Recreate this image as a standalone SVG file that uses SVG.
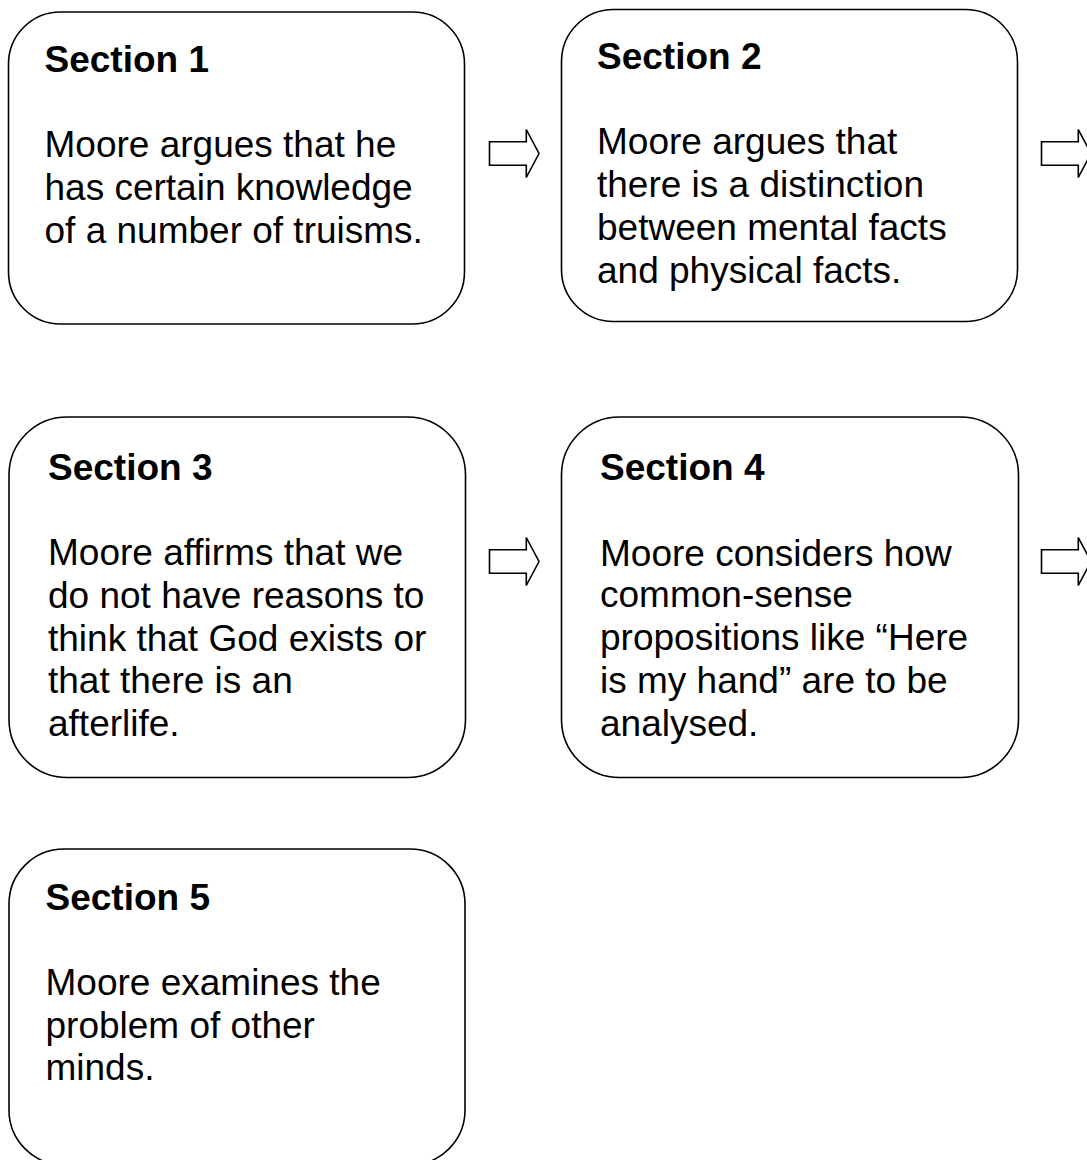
<svg xmlns="http://www.w3.org/2000/svg" xmlns:xlink="http://www.w3.org/1999/xlink" width="1087" height="1160" viewBox="0 0 1087 1160">
  <style>
    .box { fill: #ffffff; stroke: #000000; stroke-width: 1.6; }
    .head { font-family: "Liberation Sans", Arial, sans-serif; font-size: 37px; font-weight: bold; fill: #000000; }
    .body { font-family: "Liberation Sans", Arial, sans-serif; font-size: 37px; fill: #000000; }
    .arrow { fill: #ffffff; stroke: #000000; stroke-width: 1.6; stroke-linejoin: miter; }
  </style>
  <defs>
    <!-- block arrow, origin at the tail centre -->
    <polygon id="blockArrow" points="0,-11.8 36.8,-11.8 36.8,-24 49.5,0 36.8,24 36.8,11.8 0,11.8"/>
  </defs>

  <rect width="1087" height="1160" fill="#ffffff"/>

  <g id="connectors">
    <use xlink:href="#blockArrow" class="arrow" transform="translate(489.5,153.5)"/>
    <use xlink:href="#blockArrow" class="arrow" transform="translate(1041.5,153.5)"/>
    <use xlink:href="#blockArrow" class="arrow" transform="translate(489.5,561.5)"/>
    <use xlink:href="#blockArrow" class="arrow" transform="translate(1041.5,561.5)"/>
  </g>

  <g id="section1">
    <rect class="box" x="8.5" y="12" width="456" height="312" rx="52" ry="52"/>
    <text class="head" x="44.5" y="72">Section 1</text>
    <text class="body" x="44.5" y="157">Moore argues that he</text>
    <text class="body" x="44.5" y="200">has certain knowledge</text>
    <text class="body" x="44.5" y="243">of a number of truisms.</text>
  </g>

  <g id="section2">
    <rect class="box" x="561.5" y="9.5" width="456" height="312" rx="52" ry="52"/>
    <text class="head" x="597" y="68.5">Section 2</text>
    <text class="body" x="597" y="153.5">Moore argues that</text>
    <text class="body" x="597" y="196.5">there is a distinction</text>
    <text class="body" x="597" y="240">between mental facts</text>
    <text class="body" x="597" y="283">and physical facts.</text>
  </g>

  <g id="section3">
    <rect class="box" x="9" y="417" width="456.5" height="360.5" rx="58" ry="58"/>
    <text class="head" x="48" y="480">Section 3</text>
    <text class="body" x="48" y="565">Moore affirms that we</text>
    <text class="body" x="48" y="608">do not have reasons to</text>
    <text class="body" x="48" y="650.5">think that God exists or</text>
    <text class="body" x="48" y="693">that there is an</text>
    <text class="body" x="48" y="736">afterlife.</text>
  </g>

  <g id="section4">
    <rect class="box" x="561.5" y="417" width="457" height="360.5" rx="58" ry="58"/>
    <text class="head" x="600" y="480">Section 4</text>
    <text class="body" x="600" y="565.5">Moore considers how</text>
    <text class="body" x="600" y="607">common-sense</text>
    <text class="body" x="600" y="650">propositions like “Here</text>
    <text class="body" x="600" y="693">is my hand” are to be</text>
    <text class="body" x="600" y="735.5">analysed.</text>
  </g>

  <g id="section5">
    <rect class="box" x="9" y="849" width="456" height="316" rx="55" ry="55"/>
    <text class="head" x="45.5" y="910">Section 5</text>
    <text class="body" x="45.5" y="995">Moore examines the</text>
    <text class="body" x="45.5" y="1037.5">problem of other</text>
    <text class="body" x="45.5" y="1080">minds.</text>
  </g>
</svg>
